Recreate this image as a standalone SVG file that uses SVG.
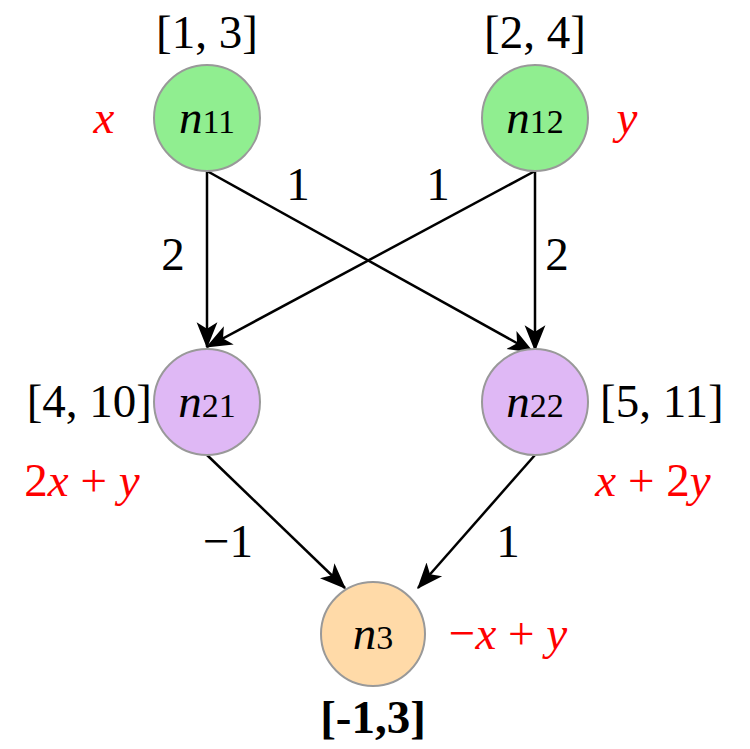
<svg xmlns="http://www.w3.org/2000/svg" width="750" height="749" viewBox="0 0 750 749" font-family="'Liberation Serif','DejaVu Serif',serif">
<style>
text{font-family:'Liberation Serif','DejaVu Serif',serif;font-size:47px;fill:#000}
.i{font-style:italic}
.r{fill:#ff0000}
.s{font-size:34px}
.n circle{stroke:#999;stroke-width:2}
.e line{stroke:#000;stroke-width:2.5;marker-end:url(#a)}
</style>
<defs><marker id="a" viewBox="0 0 20 20" refX="19" refY="10" markerWidth="26" markerHeight="26" markerUnits="userSpaceOnUse" orient="auto"><path d="M0,2 L20,10 L0,18 L5,10 Z" fill="#000"/></marker></defs>
<g class="e" id="edges">
<line x1="207" y1="171" x2="207" y2="347"/>
<line x1="207" y1="171" x2="533" y2="352"/>
<line x1="535" y1="171" x2="207" y2="347"/>
<line x1="535" y1="171" x2="535" y2="350"/>
<line x1="207" y1="455" x2="345" y2="588"/>
<line x1="535" y1="455" x2="418" y2="588"/>
</g>
<g class="n" id="n11"><circle cx="207" cy="118" r="53" fill="#90ee90"/><text x="207" y="133" text-anchor="middle"><tspan class="i">n</tspan><tspan class="s">11</tspan></text><text x="207" y="48" text-anchor="middle">[1, 3]</text><text x="104" y="133" class="i r" text-anchor="middle">x</text></g>
<g class="n" id="n12"><circle cx="535" cy="118" r="53" fill="#90ee90"/><text x="535" y="133" text-anchor="middle"><tspan class="i">n</tspan><tspan class="s">12</tspan></text><text x="535" y="48" text-anchor="middle">[2, 4]</text><text x="627" y="133" class="i r" text-anchor="middle">y</text></g>
<g class="n" id="n21"><circle cx="207" cy="402" r="53" fill="#dfb8f5"/><text x="207" y="417" text-anchor="middle"><tspan class="i">n</tspan><tspan class="s">21</tspan></text><text x="152" y="417" text-anchor="end">[4, 10]</text><text x="82" y="496" class="r" text-anchor="middle">2<tspan class="i">x</tspan> + <tspan class="i">y</tspan></text></g>
<g class="n" id="n22"><circle cx="535" cy="402" r="53" fill="#dfb8f5"/><text x="535" y="417" text-anchor="middle"><tspan class="i">n</tspan><tspan class="s">22</tspan></text><text x="600" y="417">[5, 11]</text><text x="653" y="496" class="r" text-anchor="middle"><tspan class="i">x</tspan> + 2<tspan class="i">y</tspan></text></g>
<g class="n" id="n3"><circle cx="373" cy="634" r="52" fill="#ffdaa8"/><text x="373" y="649" text-anchor="middle"><tspan class="i">n</tspan><tspan class="s">3</tspan></text><text x="373" y="733" text-anchor="middle" font-weight="bold">[-1,3]</text><text x="508" y="649" class="r" text-anchor="middle">−<tspan class="i">x</tspan> + <tspan class="i">y</tspan></text></g>
<g id="labels">
<text x="173" y="270" text-anchor="middle">2</text>
<text x="298" y="200" text-anchor="middle">1</text>
<text x="438" y="200" text-anchor="middle">1</text>
<text x="557" y="270" text-anchor="middle">2</text>
<text x="228" y="557" text-anchor="middle">−1</text>
<text x="508" y="557" text-anchor="middle">1</text>
</g>
</svg>
